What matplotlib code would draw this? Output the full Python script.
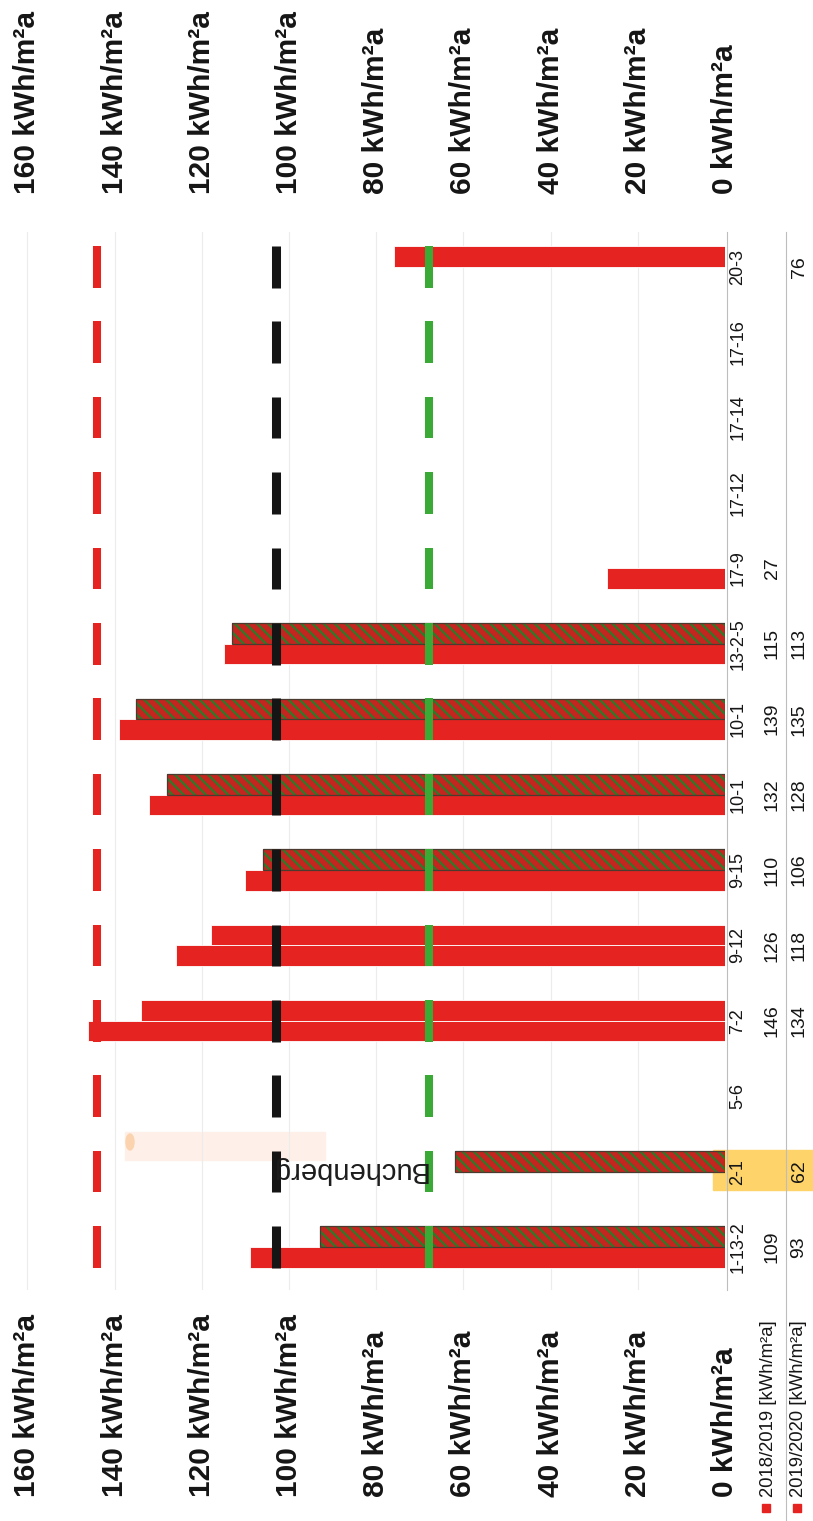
import numpy as np
import matplotlib
matplotlib.use("Agg")
import matplotlib.pyplot as plt
from matplotlib import font_manager
from matplotlib.transforms import blended_transform_factory
from matplotlib.patches import Rectangle, Ellipse

# data
categories = ["1-13-2", "2-1", "5-6", "7-2", "9-12", "9-15", "10-1", "10-1",
              "13-2-5", "17-9", "17-12", "17-14", "17-16", "20-3"]
v_1819 = [109, None, None, 146, 126, 110, 132, 139, 115, 27, None, None, None, None]
v_1920 = [93, 62, None, 134, 118, 106, 128, 135, 113, None, None, None, None, 76]
hatched_1920 = ["1-13-2", "2-1", "9-15", "10-1", "13-2-5"]
targets = [144, 103, 68]
ticks = [160, 140, 120, 100, 80, 60, 40, 20, 0]
series_names = ["2018/2019 [kWh/m²a]", "2019/2020 [kWh/m²a]"]

W, H = 813, 1521
RED = "#e52421"
GREEN = "#3aa935"
BLACK = "#151515"

installed = {f.name for f in font_manager.fontManager.ttflist}
NARROW = ["Liberation Sans Narrow", "Liberation Sans"] if "Liberation Sans Narrow" in installed else ["Liberation Sans"]


def fx(px):
    return px / W


def fy(py):
    return 1 - py / H


fig = plt.figure(figsize=(W / 100, H / 100), dpi=100)
fig.patch.set_facecolor("white")

# axes: value 0 at x=725 px, 4.36 px per unit, category centres 75.4 px apart
L, R, TOP, BOT = 20, 725, 232, 1290
ax = fig.add_axes([fx(L), fy(BOT), fx(R - L), (BOT - TOP) / H])
ax.set_facecolor("none")
ax.set_xlim((R - L) / 4.36, 0)
ax.set_ylim((1247 - BOT) / 75.4, (1247 - TOP) / 75.4)
for s in ax.spines.values():
    s.set_visible(False)
ax.set_xticks([])
ax.set_yticks([])

# faint grid
for t in ticks[:-1]:
    ax.axvline(t, color="#ececec", lw=0.8, zorder=0)

idx = np.arange(len(categories))
bh = 0.272

# 2018/2019 bars (lower in each group)
y1 = [i - bh / 2 for i, v in zip(idx, v_1819) if v is not None]
w1 = [v for v in v_1819 if v is not None]
ax.barh(y1, w1, height=bh, color=RED, edgecolor="white", linewidth=0.6, zorder=2)

# 2019/2020 bars (upper in each group)
plt.rcParams["hatch.linewidth"] = 1.6
for i, v in zip(idx, v_1920):
    if v is None:
        continue
    if categories[i] in hatched_1920:
        ax.barh(i + bh / 2, v, height=bh, color="#c4261f", edgecolor="#2c7a2a",
                hatch="\\\\\\", linewidth=0, zorder=2)
        ax.barh(i + bh / 2, v, height=bh, fill=False, edgecolor="#4a3a30",
                linewidth=0.9, zorder=2.1)
    else:
        ax.barh(i + bh / 2, v, height=bh, color=RED, edgecolor="white",
                linewidth=0.6, zorder=2)

# target markers in every category slot
for t, c, lw in zip(targets, [RED, BLACK, GREEN], [5.8, 6.5, 5.8]):
    ax.vlines([t] * len(idx), idx - 0.275, idx + 0.275, colors=c, lw=lw, zorder=4)

# value tick labels, top and bottom strips
top_tr = blended_transform_factory(ax.transData, fig.transFigure)
for t in ticks:
    for ystart in (194, 1497):
        ax.text(t, fy(ystart), f"{t} kWh/m²a", transform=top_tr, rotation=90,
                rotation_mode="anchor", ha="left", va="center", fontsize=21.5,
                fontweight="bold", family=NARROW, color=BLACK)

# category labels and value table
cat_tr = blended_transform_factory(fig.transFigure, ax.transData)
for i, name in enumerate(categories):
    ax.text(fx(738), i, name, transform=cat_tr, rotation=90, rotation_mode="anchor",
            ha="center", va="center", fontsize=13, family=NARROW, color=BLACK, zorder=5)
    for xp, vals in ((772, v_1819), (799, v_1920)):
        if vals[i] is not None:
            ax.text(fx(xp), i, str(vals[i]), transform=cat_tr, rotation=90,
                    rotation_mode="anchor", ha="center", va="center", fontsize=14,
                    family=NARROW, color=BLACK, zorder=5)

# table lines
fig.add_artist(plt.Line2D([fx(727), fx(727)], [fy(232), fy(1290)], color="#bdbdbd", lw=0.8))
fig.add_artist(plt.Line2D([fx(786), fx(786)], [fy(232), fy(1521)], color="#bdbdbd", lw=0.8))

# legend
for xs, xt, name in zip((766, 797), (768, 798), series_names):
    fig.add_artist(Rectangle((fx(xs - 4), fy(1512)), fx(8), 8 / H, color=RED))
    fig.text(fx(xt), fy(1497), name, rotation=90, rotation_mode="anchor", ha="left",
             va="center", fontsize=13.3, family=NARROW, color=BLACK)

# highlighter marks and the stamped name from the scan
fig.add_artist(Rectangle((fx(713), fy(1190)), fx(100), 40 / H, color="#fdd36a", zorder=-1))
fig.add_artist(Rectangle((fx(125), fy(1160)), fx(200), 28 / H, color="#fef0e8", zorder=-1))
fig.add_artist(Ellipse((fx(130), fy(1142)), fx(8), 16 / H, color="#fbd3ae", zorder=-1))
fig.text(fx(348), fy(1170), "Buchenberg", rotation=180, ha="center", va="center",
         fontsize=21, family=["Liberation Sans"], color="#1c1c1c")

fig.savefig("out.png", dpi=100, facecolor="white")
